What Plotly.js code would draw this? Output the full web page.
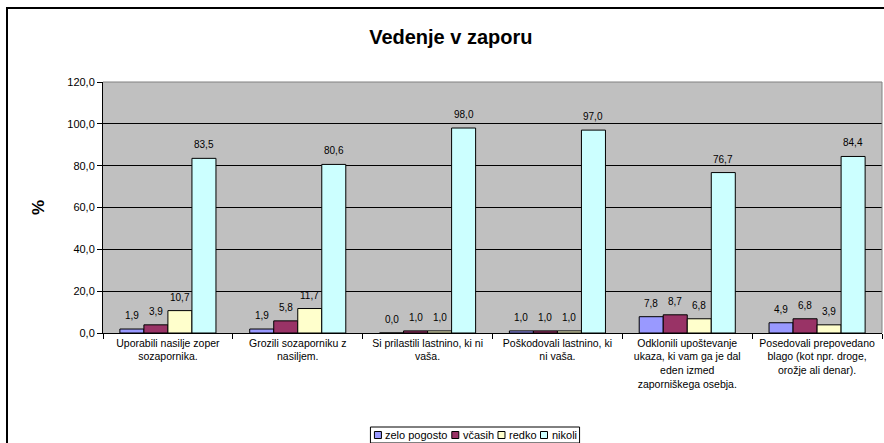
<!DOCTYPE html>
<html>
<head>
<meta charset="utf-8">
<script src="https://cdn.plot.ly/plotly-3.0.1.min.js"></script>
<style>
  html, body { margin: 0; padding: 0; background: #fff; }
  #wrap { position: relative; width: 884px; height: 443px; overflow: hidden; }
  #chart { width: 884px; height: 443px; }
  #frame { position: absolute; left: 6px; top: 7px; width: 884px; height: 443px;
           border-left: 2px solid #000; border-top: 2px solid #000; pointer-events: none; }
</style>
</head>
<body>
<div id="wrap">
  <div id="chart"></div>
  <div id="frame"></div>
</div>
<script>
const categories = [
  "Uporabili nasilje zoper<br>sozapornika.",
  "Grozili sozaporniku z<br>nasiljem.",
  "Si prilastili lastnino, ki ni<br>vaša.",
  "Poškodovali lastnino, ki<br>ni vaša.",
  "Odklonili upoštevanje<br>ukaza, ki vam ga je dal<br>eden izmed<br>zaporniškega osebja.",
  "Posedovali prepovedano<br>blago (kot npr. droge,<br>orožje ali denar)."
];
const seriesNames = ["zelo pogosto", "včasih", "redko", "nikoli"];
const zeloPogosto = [1.9, 1.9, 0.0, 1.0, 7.8, 4.9];
const vcasih      = [3.9, 5.8, 1.0, 1.0, 8.7, 6.8];
const redko       = [10.7, 11.7, 1.0, 1.0, 6.8, 3.9];
const nikoli      = [83.5, 80.6, 98.0, 97.0, 76.7, 84.4];
const yTicks = [0, 20, 40, 60, 80, 100, 120];

const seriesValues = [zeloPogosto, vcasih, redko, nikoli];
const colors = ["#9999FF", "#993366", "#FFFFCC", "#CCFFFF"];
const fmt = v => v.toFixed(1).replace(".", ",");
const FONT = "Liberation Sans, Arial, sans-serif";

const W = 884, H = 443;
const M = { l: 103, r: 2, t: 82, b: 110 };
const plotW = W - M.l - M.r, plotH = H - M.t - M.b;
const bargap = 0.26;
const catW = plotW / categories.length;
const barW = catW * (1 - bargap) / seriesValues.length;

const traces = seriesValues.map((vals, i) => ({
  type: "bar",
  name: seriesNames[i],
  x: categories,
  y: vals,
  marker: { color: colors[i], line: { color: "#000", width: 1 } },
  hoverinfo: "none"
}));

// value labels above bars
const annotations = [];
seriesValues.forEach((vals, i) => {
  const dx = (i - (seriesValues.length - 1) / 2) * barW;
  vals.forEach((v, j) => {
    annotations.push({
      xref: "x", yref: "y", x: categories[j], y: v,
      xshift: dx, yshift: 6, yanchor: "bottom", xanchor: "center",
      text: fmt(v), showarrow: false,
      font: { family: FONT, size: 10, color: "#000" }
    });
  });
});

// custom compact legend
const shapes = [
  { type: "line", xref: "paper", yref: "paper", x0: 0, x1: 1, y0: 1, y1: 1,
    line: { color: "#808080", width: 1 } },
  { type: "line", xref: "paper", yref: "paper", x0: 1, x1: 1, y0: 0, y1: 1,
    line: { color: "#808080", width: 1 } }
];
const ctx = document.createElement("canvas").getContext("2d");
const legFont = 11;
ctx.font = legFont + "px " + FONT;
const sq = 7, sqGap = 3, itemGap = 5, padX = 4;
const widths = seriesNames.map(n => ctx.measureText(n).width);
const totalW = widths.reduce((a, b) => a + b, 0) + seriesNames.length * (sq + sqGap) + (seriesNames.length - 1) * itemGap + 2 * padX;
const legCx = 475, legTop = 427, legH = 16;
const px2x = px => (px - M.l) / plotW;
const px2y = py => (H - M.b - py) / plotH;
let cur = legCx - totalW / 2;
shapes.push({ type: "rect", xref: "paper", yref: "paper",
  x0: px2x(cur), x1: px2x(cur + totalW), y0: px2y(legTop), y1: px2y(legTop + legH),
  line: { color: "#000", width: 1 }, fillcolor: "#fff" });
cur += padX;
const midY = legTop + legH / 2;
seriesNames.forEach((n, i) => {
  shapes.push({ type: "rect", xref: "paper", yref: "paper",
    x0: px2x(cur), x1: px2x(cur + sq), y0: px2y(midY + sq / 2), y1: px2y(midY - sq / 2),
    line: { color: "#000", width: 1 }, fillcolor: colors[i] });
  cur += sq + sqGap;
  annotations.push({ xref: "paper", yref: "paper", x: px2x(cur - 1), y: px2y(midY),
    xanchor: "left", yanchor: "middle", showarrow: false, text: n,
    font: { family: FONT, size: legFont, color: "#000" } });
  cur += widths[i] + itemGap;
});

const layout = {
  width: W, height: H,
  margin: M,
  paper_bgcolor: "#ffffff",
  plot_bgcolor: "#C0C0C0",
  separators: ", ",
  font: { family: FONT, color: "#000", size: 11 },
  title: {
    text: "<b>Vedenje v zaporu</b>",
    font: { size: 20, family: FONT, color: "#000" },
    x: 0.51, xref: "container", xanchor: "center",
    y: 0.917, yref: "container", yanchor: "middle"
  },
  barmode: "group",
  bargap: bargap,
  bargroupgap: 0,
  showlegend: false,
  xaxis: {
    type: "category",
    showline: true, linecolor: "#000", linewidth: 1,
    ticks: "outside", ticklen: 5, tickcolor: "#000",
    tickson: "boundaries",
    tickfont: { size: 10.5 },
    showgrid: false
  },
  yaxis: {
    range: [0, 120],
    tickvals: yTicks,
    ticktext: yTicks.map(fmt),
    showline: true, linecolor: "#000", linewidth: 1,
    ticks: "outside", ticklen: 5, tickcolor: "#000",
    showgrid: true, gridcolor: "#000", gridwidth: 1,
    zeroline: false,
    tickfont: { size: 11 },
    title: { text: "<b>%</b>", font: { size: 17 }, standoff: 18 }
  },
  annotations: annotations,
  shapes: shapes
};

Plotly.newPlot("chart", traces, layout, { displayModeBar: false, staticPlot: true });
</script>
</body>
</html>
